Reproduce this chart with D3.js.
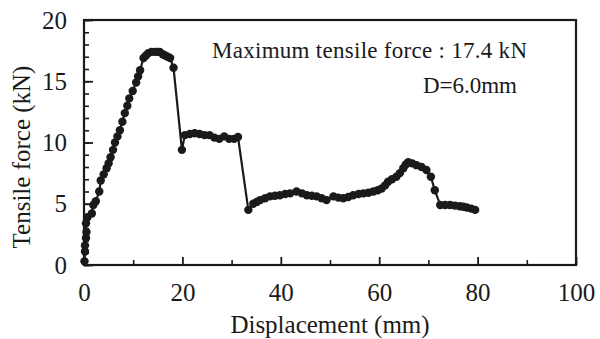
<!DOCTYPE html>
<html>
<head>
<meta charset="utf-8">
<script src="https://cdn.jsdelivr.net/npm/d3@7"></script>
<style>
  html, body { margin: 0; padding: 0; background: #fff; }
  svg { display: block; }
  text { font-family: "Liberation Serif", "DejaVu Serif", serif; fill: #1a1a1a; }
</style>
</head>
<body>
<svg id="chart" width="600" height="339"></svg>
<script>
// Displacement (mm) and tensile force (kN)
const displacement = [
  0.1, 0.2, 0.2, 0.4, 0.5, 0.4, 0.7, 1.6, 1.9, 2.4, 3.1, 3.4, 4.0, 4.6, 5.0, 5.4, 5.9, 6.3, 6.8, 7.3, 7.8, 8.3, 8.8, 9.2, 9.9,
  10.6, 11.0, 11.4, 12.1, 12.6, 13.1, 13.7, 14.4, 14.9, 15.4, 16.0, 16.5, 17.0, 17.5, 18.2,
  19.9, 20.5, 21.5, 22.5, 23.5, 24.5, 25.5, 26.5, 27.5, 28.5, 29.5, 30.5, 31.3,
  33.4, 34.4, 35.1, 35.8, 36.8, 37.8, 38.8, 39.8, 40.9, 41.9, 43.2, 44.3, 45.3, 46.3, 47.3, 48.3, 49.3, 50.7, 51.7, 52.7,
  53.7, 54.7, 55.8, 56.8, 57.8, 58.8, 59.7, 60.5, 61.2, 61.8, 62.6, 63.5, 64.2, 64.9, 65.4, 65.9, 66.7, 67.6, 68.6, 69.6,
  70.5, 71.3, 72.4, 73.4, 74.4, 75.4, 76.4, 77.1, 77.8, 78.7, 79.5
];
const force = [
  0.3, 1.1, 1.6, 2.2, 2.7, 3.4, 3.9, 4.2, 4.9, 5.2, 6.0, 6.9, 7.4, 7.9, 8.3, 8.8, 9.4, 10.0, 10.5, 11.0, 11.7, 12.4, 13.0, 13.6, 14.2,
  14.9, 15.4, 15.9, 16.9, 17.1, 17.3, 17.4, 17.4, 17.4, 17.4, 17.2, 17.1, 17.0, 16.9, 16.1,
  9.4, 10.6, 10.7, 10.75, 10.7, 10.6, 10.6, 10.4, 10.3, 10.5, 10.3, 10.3, 10.45,
  4.5, 5.0, 5.15, 5.3, 5.45, 5.6, 5.65, 5.7, 5.8, 5.85, 6.0, 5.85, 5.7, 5.65, 5.6, 5.45, 5.3, 5.6, 5.5, 5.45,
  5.55, 5.7, 5.8, 5.85, 5.9, 6.0, 6.1, 6.25, 6.5, 6.8, 7.0, 7.2, 7.5, 7.9, 8.2, 8.4, 8.3, 8.15, 8.0, 7.75,
  7.2, 6.1, 4.9, 4.9, 4.9, 4.85, 4.8, 4.75, 4.7, 4.6, 4.5
];
const xTicks = [0, 20, 40, 60, 80, 100];
const yTicks = [0, 5, 10, 15, 20];
const xMinorTicks = [10, 30, 50, 70, 90];
const yMinorTicks = d3.range(0, 21, 1);
const xTitle = "Displacement (mm)";
const yTitle = "Tensile force (kN)";
const noteMax = "Maximum tensile force : 17.4 kN";
const noteD = "D=6.0mm";

const data = displacement.map((d, i) => ({ x: d, y: force[i] }));

const svg = d3.select("#chart");
const mLeft = 84, mRight = 576, mTop = 20, mBottom = 265;

const x = d3.scaleLinear().domain([0, 100]).range([mLeft, mRight]);
const y = d3.scaleLinear().domain([0, 20]).range([mBottom, mTop]);

const ink = "#1a1a1a";

// minor ticks (inward)
svg.append("g")
  .attr("transform", `translate(${mLeft},0)`)
  .call(d3.axisLeft(y).tickValues(yMinorTicks).tickSize(-5).tickFormat(""))
  .call(g => g.select(".domain").remove())
  .call(g => g.selectAll("line").attr("stroke", ink).attr("stroke-width", 1.6));

svg.append("g")
  .attr("transform", `translate(0,${mBottom})`)
  .call(d3.axisBottom(x).tickValues(xMinorTicks).tickSize(-5).tickFormat(""))
  .call(g => g.select(".domain").remove())
  .call(g => g.selectAll("line").attr("stroke", ink).attr("stroke-width", 1.6));

// major axes
svg.append("g")
  .attr("transform", `translate(${mLeft},0)`)
  .call(d3.axisLeft(y).tickValues(yTicks).tickSize(-9).tickPadding(17).tickFormat(d3.format("d")))
  .call(g => g.select(".domain").remove())
  .call(g => g.selectAll("line").attr("stroke", ink).attr("stroke-width", 1.8))
  .call(g => g.selectAll("text").attr("font-size", 25).attr("fill", ink)
    .style("font-family", '"Liberation Serif", serif'));

svg.append("g")
  .attr("transform", `translate(0,${mBottom})`)
  .call(d3.axisBottom(x).tickValues(xTicks).tickSize(-8).tickPadding(18).tickFormat(d3.format("d")))
  .call(g => g.select(".domain").remove())
  .call(g => g.selectAll("line").attr("stroke", ink).attr("stroke-width", 1.8))
  .call(g => g.selectAll("text").attr("font-size", 25).attr("fill", ink)
    .style("font-family", '"Liberation Serif", serif'));

// frame
svg.append("rect")
  .attr("x", mLeft).attr("y", mTop)
  .attr("width", mRight - mLeft).attr("height", mBottom - mTop)
  .attr("fill", "none").attr("stroke", ink).attr("stroke-width", 2.2);

// line
svg.append("path")
  .datum(data)
  .attr("fill", "none")
  .attr("stroke", ink)
  .attr("stroke-width", 2.2)
  .attr("d", d3.line().x(d => x(d.x)).y(d => y(d.y)));

// markers
svg.append("g").selectAll("circle")
  .data(data)
  .join("circle")
  .attr("cx", d => x(d.x))
  .attr("cy", d => y(d.y))
  .attr("r", 4.2)
  .attr("fill", ink);

// axis titles
svg.append("text")
  .attr("x", (mLeft + mRight) / 2)
  .attr("y", 333)
  .attr("text-anchor", "middle")
  .attr("font-size", 25)
  .text(xTitle);

svg.append("text")
  .attr("transform", "translate(30,157) rotate(-90)")
  .attr("text-anchor", "middle")
  .attr("font-size", 25)
  .text(yTitle);

// annotations
svg.append("text")
  .attr("x", 212).attr("y", 58)
  .attr("font-size", 23)
  .attr("textLength", 315)
  .attr("lengthAdjust", "spacing")
  .text(noteMax);

svg.append("text")
  .attr("x", 517).attr("y", 93)
  .attr("text-anchor", "end")
  .attr("font-size", 23)
  .text(noteD);
</script>
</body>
</html>
